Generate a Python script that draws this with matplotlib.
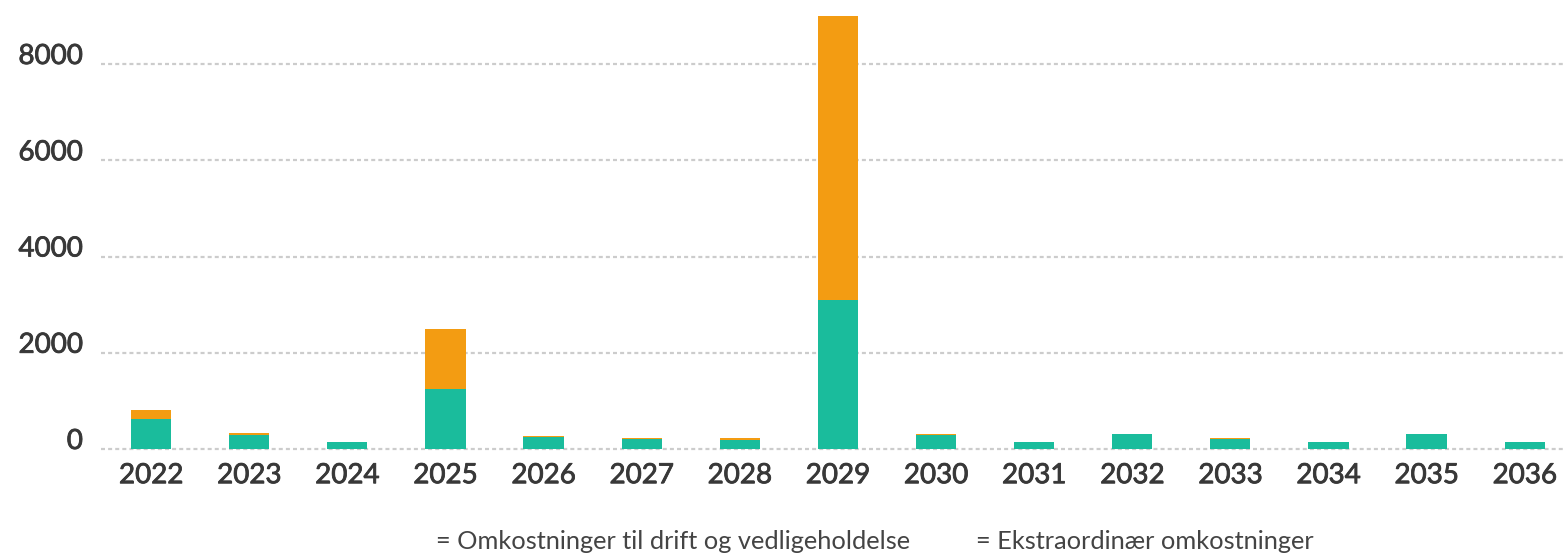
"""Stacked yearly costs: operation/maintenance vs extraordinary."""
import matplotlib

matplotlib.use("Agg")
import matplotlib.pyplot as plt  # noqa: E402
import matplotlib.patheffects as pe  # noqa: E402

years = [str(y) for y in range(2022, 2037)]
drift = [620, 300, 150, 1250, 240, 200, 195, 3100, 290, 150, 310, 200, 150, 310, 150]
ekstra = [190, 40, 5, 1250, 30, 20, 30, 5900, 25, 5, 5, 25, 5, 5, 5]
y_ticks = [0, 2000, 4000, 6000, 8000]
legend_labels = ["= Omkostninger til drift og vedligeholdelse",
                 "= Ekstraordinær omkostninger"]

GREEN = "#1abc9c"
ORANGE = "#f39c12"
TEXT = "#383838"

plt.rcParams["font.family"] = ["Lato", "DejaVu Sans"]

fig = plt.figure(figsize=(15.63, 5.55), dpi=100)
ax = fig.add_axes([101 / 1563, 106 / 555, 1462 / 1563, 449 / 555])

x = range(len(years))
ax.bar(x, drift, width=0.41, color=GREEN, zorder=2)
ax.bar(x, ekstra, width=0.41, bottom=drift, color=ORANGE, zorder=2)

for t in y_ticks:
    ax.axhline(t, color="#cccccc", lw=1.6, ls=(0, (1.8, 1.4)), zorder=1, clip_on=False)

ax.set_xlim(-0.51, 14.39)
ax.set_ylim(0, 9330)
ax.set_xticks(list(x))
ax.set_xticklabels(years)
ax.set_yticks(y_ticks)
ax.set_yticklabels([str(t) for t in y_ticks])
ax.tick_params(axis="both", length=0, labelsize=20, labelcolor=TEXT)
ax.tick_params(axis="x", pad=9.5)
ax.tick_params(axis="y", pad=13)
# Lato semibold is not installed: thicken the regular face a little
semibold = [pe.withStroke(linewidth=0.6, foreground=TEXT)]
for lab in ax.get_xticklabels() + ax.get_yticklabels():
    lab.set_path_effects(semibold)
for lab in ax.get_yticklabels():
    lab.set_va("baseline")
for s in ax.spines.values():
    s.set_visible(False)

fig.text(673.5 / 1563, 1 - 549 / 555, legend_labels[0], ha="center", va="baseline",
         fontsize=18.3, color="#444444")
fig.text(1144.5 / 1563, 1 - 549 / 555, legend_labels[1], ha="center", va="baseline",
         fontsize=18.3, color="#444444")

fig.savefig("out.png", dpi=100)
plt.close(fig)
